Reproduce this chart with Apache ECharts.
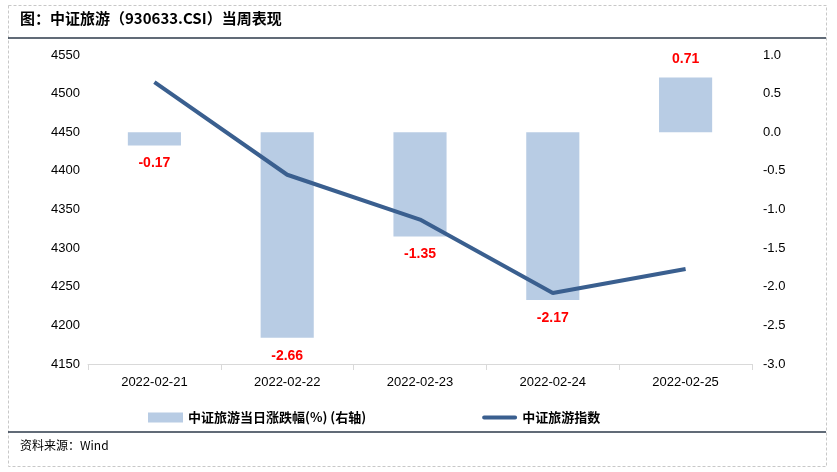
<!DOCTYPE html>
<html><head><meta charset="utf-8">
<script src="https://cdn.jsdelivr.net/npm/echarts@6/dist/echarts.min.js"></script>
<style>html,body{margin:0;padding:0;background:#fff}#c{width:837px;height:472px}</style>
</head><body><div id="c"></div>
<script>
const categories = ['2022-02-21','2022-02-22','2022-02-23','2022-02-24','2022-02-25'];
const pctChange = [-0.17, -2.66, -1.35, -2.17, 0.71];
const indexValues = [4515, 4395, 4337, 4242, 4273];
const leftTicks = {min: 4150, max: 4550, interval: 50};
const rightTicks = {min: -3, max: 1, interval: 0.5};
const barName = '中证旅游当日涨跌幅(%) (右轴)';
const lineName = '中证旅游指数';
const titleText = '图：中证旅游（930633.CSI）当周表现';
const sourceText = '资料来源：Wind';

const cjk = '"Noto Sans CJK SC", sans-serif';
const latin = 'Arial, "Liberation Sans", sans-serif';
const chart = echarts.init(document.getElementById('c'), null, {renderer: 'canvas'});
chart.setOption({
  animation: false,
  backgroundColor: '#fff',
  graphic: [
    {type: 'rect', shape: {x: 8.5, y: 5.5, width: 818, height: 461}, style: {fill: 'none', stroke: '#c8c8c8', lineDash: [3, 2], lineWidth: 1}},
    {type: 'line', shape: {x1: 8, y1: 38, x2: 826, y2: 38}, style: {stroke: '#2d3a4a', lineWidth: 1.5}},
    {type: 'line', shape: {x1: 8, y1: 432, x2: 826, y2: 432}, style: {stroke: '#2d3a4a', lineWidth: 1.5}},
    {type: 'text', left: 20, top: 11, style: {text: titleText, font: 'bold 15px ' + cjk, fill: '#000'}},
    {type: 'text', left: 20, top: 439, style: {text: sourceText, font: '12px ' + cjk, fill: '#000'}}
  ],
  legend: {
    top: 406,
    left: 143,
    itemGap: 116,
    itemWidth: 35,
    itemHeight: 10,
    textStyle: {fontFamily: cjk, fontWeight: 'bold', fontSize: 13, color: '#000'},
    data: [
      {name: barName, icon: 'rect'},
      {name: lineName, icon: 'path://M2,3 L34,3 A2,2 0 0 1 34,7 L2,7 A2,2 0 0 1 2,3 Z', itemStyle: {color: '#3a5f8f'}}
    ]
  },
  grid: {left: 88, right: 85, top: 55, bottom: 108},
  xAxis: {
    type: 'category',
    data: categories,
    axisLine: {onZero: false, lineStyle: {color: '#d9d9d9'}},
    axisTick: {show: true, length: 6, lineStyle: {color: '#d9d9d9'}},
    axisLabel: {color: '#000', fontFamily: latin, fontSize: 13, margin: 12}
  },
  yAxis: [
    {type: 'value', min: leftTicks.min, max: leftTicks.max, interval: leftTicks.interval,
     splitLine: {show: false}, axisLine: {show: false}, axisTick: {show: false},
     axisLabel: {color: '#000', fontFamily: latin, fontSize: 13, margin: 8, formatter: v => String(v)}},
    {type: 'value', min: rightTicks.min, max: rightTicks.max, interval: rightTicks.interval,
     splitLine: {show: false}, axisLine: {show: false}, axisTick: {show: false},
     axisLabel: {color: '#000', fontFamily: latin, fontSize: 13, margin: 11, formatter: v => v.toFixed(1)}}
  ],
  series: [
    {name: barName, type: 'bar', yAxisIndex: 1, barWidth: '40%',
     itemStyle: {color: '#b8cce4'},
     data: pctChange.map(v => ({value: v, label: {position: v < 0 ? 'bottom' : 'top'}})),
     label: {show: true, color: '#ff0000', fontWeight: 'bold', fontSize: 14, fontFamily: latin, distance: 11,
       formatter: p => p.value.toFixed(2)}},
    {name: lineName, type: 'line', yAxisIndex: 0, data: indexValues,
     symbol: 'none', lineStyle: {color: '#3a5f8f', width: 4}, itemStyle: {color: '#3a5f8f'}}
  ]
});
</script></body></html>
